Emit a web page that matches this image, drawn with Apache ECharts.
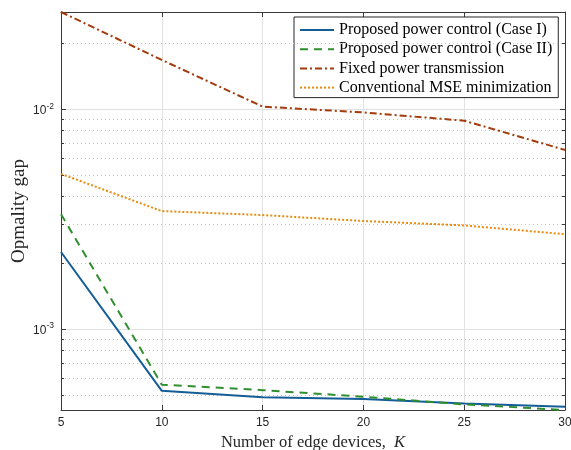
<!DOCTYPE html>
<html>
<head>
<meta charset="utf-8">
<script src="https://cdn.jsdelivr.net/npm/echarts@6/dist/echarts.min.js"></script>
<style>
  html, body { margin: 0; padding: 0; background: #fff; }
  #chart { width: 571px; height: 450px; }
</style>
</head>
<body>
<div id="chart"></div>
<script>
// Number of edge devices
const K = [5, 10, 15, 20, 25, 30];

// Optimality gap per scheme
const caseI        = [0.00224, 0.000523, 0.000489, 0.000480, 0.000458, 0.000443];
const caseII       = [0.00333, 0.000558, 0.000527, 0.000492, 0.000454, 0.000428];
const fixedPower   = [0.0277, 0.01676, 0.01028, 0.00967, 0.00887, 0.00653];
const conventional = [0.00508, 0.00344, 0.00330, 0.00310, 0.00296, 0.00270];

const seriesNames = [
  'Proposed power control (Case I)',
  'Proposed power control (Case II)',
  'Fixed power transmission',
  'Conventional MSE minimization'
];

// Axis ranges
const xMin = 5, xMax = 30, xStep = 5;
const yMin = 0.000428, yMax = 0.0277;

// Minor decade values (2..9 x 10^k) inside the y range
const minorValues = [5e-4, 6e-4, 7e-4, 8e-4, 9e-4,
  2e-3, 3e-3, 4e-3, 5e-3, 6e-3, 7e-3, 8e-3, 9e-3, 2e-2];

const frameColor = '#3a3a3a';
const tickFont = 'Liberation Sans, Arial, sans-serif';
const serifFont = 'Liberation Serif, Times New Roman, serif';
const titleSize = 16.5;

const pairs = (ys) => K.map((k, i) => [k, ys[i]]);

function isDecade(v) {
  const e = Math.log10(v);
  return Math.abs(e - Math.round(e)) < 1e-6;
}

const yLabel = {
  show: true,
  margin: 7,
  color: '#262626',
  fontFamily: tickFont,
  fontSize: 12,
  formatter: (v) => isDecade(v) ? '{b|10}{s|' + Math.round(Math.log10(v)) + '}' : '',
  rich: {
    b: { fontFamily: tickFont, fontSize: 12, color: '#262626', verticalAlign: 'bottom' },
    s: { fontFamily: tickFont, fontSize: 8.5, color: '#262626', verticalAlign: 'bottom', padding: [0, 0, 6, 0] }
  }
};

// Dotted minor grid lines and short inward minor ticks on both sides
const minorMarks = [];
minorValues.forEach(v => {
  minorMarks.push([{ coord: [xMin, v], lineStyle: { color: '#c4c4c4', type: [1, 3], width: 1 } },
                   { coord: [xMax, v] }]);
  minorMarks.push([{ coord: [xMin, v], lineStyle: { color: frameColor, type: 'solid', width: 1 } },
                   { coord: [xMin + 0.15, v] }]);
  minorMarks.push([{ coord: [xMax - 0.15, v], lineStyle: { color: frameColor, type: 'solid', width: 1 } },
                   { coord: [xMax, v] }]);
});

const colors = ['#155d96', '#2f8f2f', '#a33b0c', '#ea8a10'];
const dashes = ['solid', [8, 6], [7, 3, 2, 3], [2, 2]];
const values = [caseI, caseII, fixedPower, conventional];

const lineSeries = seriesNames.map((name, i) => ({
  name,
  type: 'line',
  data: pairs(values[i]),
  symbol: 'none',
  z: 5 + i,
  color: colors[i],
  lineStyle: { color: colors[i], width: 2, type: dashes[i] },
  animation: false
}));

const chart = echarts.init(document.getElementById('chart'), null, { renderer: 'canvas' });

chart.setOption({
  animation: false,
  backgroundColor: '#ffffff',
  grid: { left: 61, right: 6, top: 12, bottom: 40, containLabel: false, outerBoundsMode: 'none' },
  legend: {
    data: seriesNames,
    orient: 'vertical',
    left: 294,
    top: 17,
    padding: [5, 6, 2, 5],
    itemWidth: 34,
    itemHeight: 14,
    itemGap: 3.2,
    itemStyle: { opacity: 0 },
    backgroundColor: '#ffffff',
    borderColor: '#262626',
    borderWidth: 1,
    textStyle: { fontFamily: serifFont, fontSize: 16, lineHeight: 14, height: 14, color: '#000' }
  },
  xAxis: [{
    type: 'value',
    min: xMin, max: xMax, interval: xStep,
    name: 'Number of edge devices,  {i|K}',
    nameLocation: 'middle',
    nameGap: 24,
    nameTextStyle: {
      fontFamily: serifFont, fontSize: titleSize, color: '#262626',
      rich: { i: { fontFamily: serifFont, fontSize: titleSize, fontStyle: 'italic', color: '#262626' } }
    },
    axisLine: { show: true, lineStyle: { color: frameColor, width: 1 } },
    axisTick: { show: true, inside: true, length: 5, lineStyle: { color: frameColor } },
    axisLabel: { margin: 7, color: '#262626', fontFamily: tickFont, fontSize: 12 },
    splitLine: { show: true, lineStyle: { color: '#e2e2e2', width: 1 } }
  }, {
    type: 'value',
    position: 'top',
    min: xMin, max: xMax, interval: xStep,
    axisLine: { show: true, lineStyle: { color: frameColor, width: 1 } },
    axisTick: { show: true, inside: true, length: 5, lineStyle: { color: frameColor } },
    axisLabel: { show: false },
    splitLine: { show: false }
  }],
  yAxis: [{
    type: 'log',
    logBase: 10,
    min: yMin, max: yMax,
    name: 'Opmality gap',
    nameLocation: 'middle',
    nameGap: 32,
    nameMoveOverlap: false,
    nameTextStyle: { fontFamily: serifFont, fontSize: 19, color: '#262626' },
    axisLine: { show: true, lineStyle: { color: frameColor, width: 1 } },
    axisTick: { show: true, inside: true, length: 5, lineStyle: { color: frameColor } },
    axisLabel: yLabel,
    splitLine: { show: true, lineStyle: { color: '#e2e2e2', width: 1 } }
  }, {
    type: 'log',
    logBase: 10,
    position: 'right',
    min: yMin, max: yMax,
    axisLine: { show: true, lineStyle: { color: frameColor, width: 1 } },
    axisTick: { show: true, inside: true, length: 5, lineStyle: { color: frameColor } },
    axisLabel: { show: false },
    splitLine: { show: false }
  }],
  series: [{
    name: 'minor-grid',
    type: 'line',
    data: [],
    silent: true,
    z: 1,
    markLine: {
      silent: true,
      symbol: 'none',
      label: { show: false },
      animation: false,
      data: minorMarks
    }
  }].concat(lineSeries)
});
</script>
</body>
</html>
